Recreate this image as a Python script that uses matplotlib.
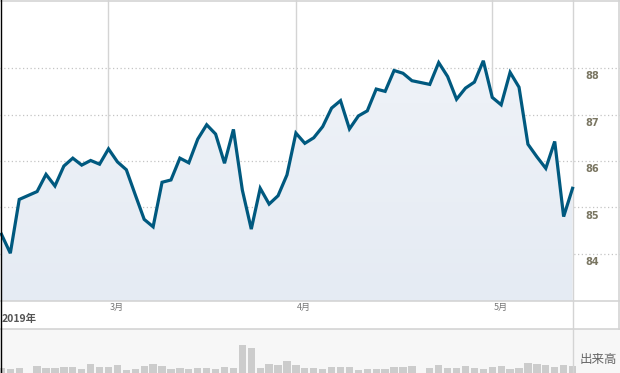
import matplotlib
matplotlib.use("Agg")
import matplotlib.pyplot as plt
from matplotlib.lines import Line2D
import numpy as np
import pandas as pd

plt.rcParams['font.family'] = ['Noto Sans CJK JP', 'DejaVu Sans']

# weekday axis, US market holidays leave a gap
start, end = '2019-02-13', '2019-05-14'
holidays = ['2019-02-18', '2019-04-19']

closes = [84.42, 84.01, 85.17, 85.34, 85.71, 85.46, 85.89, 86.06, 85.91, 86.01,
          85.93, 86.26, 85.98, 85.81, 85.27, 84.74, 84.58, 85.54, 85.59, 86.06,
          85.96, 86.47, 86.78, 86.58, 85.95, 86.68, 85.37, 84.53, 85.41, 85.07,
          85.25, 85.70, 86.60, 86.38, 86.50, 86.74, 87.14, 87.30, 86.69, 86.97,
          87.08, 87.55, 87.50, 87.95, 87.89, 87.73, 87.65, 88.12, 87.82, 87.33,
          87.57, 87.70, 88.16, 87.37, 87.21, 87.91, 87.59, 86.36, 86.09, 85.84,
          86.42, 84.80, 85.41]
volumes = [50, 43, 53, 70, 50, 53, 60, 60, 43, 90,
           63, 63, 80, 33, 43, 70, 90, 70, 40, 50,
           40, 50, 50, 40, 60, 50, 280, 250, 50, 90,
           80, 120, 80, 50, 50, 40, 60, 60, 60, 30,
           40, 40, 40, 60, 60, 70, 50, 80, 50, 50,
           70, 50, 40, 60, 70, 40, 50, 100, 90, 80,
           60, 80, 70]
price_ticks = [84, 85, 86, 87, 88]
month_starts = ['2019-03-01', '2019-04-01', '2019-05-01']
month_labels = ['3月', '4月', '5月']
year_label = '2019年'
volume_label = '出来高'

weekdays = pd.bdate_range(start, end)
trading = weekdays[~weekdays.isin(pd.to_datetime(holidays))]
pos = np.array([weekdays.get_loc(d) for d in trading])
mpos = [weekdays.get_loc(pd.Timestamp(m)) for m in month_starts]
last = pos[-1]

W, H = 620, 373
fig = plt.figure(figsize=(W / 100, H / 100), dpi=100)
fig.patch.set_facecolor('white')

xmin = -0.157
xmax = xmin + (W - 1) / 8.91
grid_c = '#d4d4d4'

# price panel
ax = fig.add_axes([0, (H - 301) / H, 1, 301 / H])
ax.set_xlim(xmin, xmax)
ax.set_ylim(82.98, 89.47)
ax.axis('off')
for t in price_ticks:
    ax.axhline(t, color='#c4c4c4', lw=0.9, ls=(0, (1, 2)), zorder=1)
    ax.text(66.17, t - 0.07, str(t), ha='center', va='top', fontsize=7,
            fontweight='bold', color='#7a7662', family='DejaVu Sans')
for m in mpos:
    ax.axvline(m, color=grid_c, lw=1, zorder=1)
ax.axvline(last, color=grid_c, lw=1, zorder=3)

# soft vertical gradient under the line
grad = np.linspace(0, 1, 64).reshape(-1, 1)
img = ax.imshow(grad, extent=[pos[0], last, 82.98, 89.47], aspect='auto',
                cmap=matplotlib.colors.LinearSegmentedColormap.from_list('f', ['#f1f4f9', '#e5ebf3']),
                origin='upper', zorder=2)
poly = ax.fill_between(pos, closes, 82.98, color='none', lw=0)
img.set_clip_path(poly.get_paths()[0], transform=ax.transData)
ax.plot(pos, closes, color='#00597f', lw=2.3, solid_joinstyle='miter', zorder=4)
ax.set_xlim(xmin, xmax)
ax.set_ylim(82.98, 89.47)

# date band
axd = fig.add_axes([0, (H - 329) / H, 1, 28 / H])
axd.set_xlim(xmin, xmax)
axd.set_ylim(0, 28)
axd.axis('off')
axd.axvline(last, color=grid_c, lw=1)
for m, lab in zip(mpos, month_labels):
    axd.text(m + 0.12, 22, lab, ha='left', va='center', fontsize=6.5, color='#777777')
axd.text(0.06, 10, year_label, ha='left', va='center', fontsize=7.5,
         fontweight='bold', color='#555555')

# volume panel
axv = fig.add_axes([0, 0, 1, 44 / H])
axv.set_xlim(xmin, xmax)
axv.set_ylim(0, 440)
axv.set_facecolor('#f7f7f7')
for s in axv.spines.values():
    s.set_visible(False)
axv.set_xticks([])
axv.set_yticks([])
axv.bar(pos, volumes, width=0.82, color='#cccccc', zorder=2)
axv.axvline(last, color=grid_c, lw=1)
axv.text(66.9, 130, volume_label, ha='center', va='center', fontsize=9, color='#666666')

# borders
for y in [0.5, 301, 329]:
    fig.add_artist(Line2D([0, 1], [1 - y / H] * 2, color=grid_c, lw=1.2))
fig.add_artist(Line2D([1 - 1.5 / W] * 2, [44 / H, 1], color=grid_c, lw=1.2))
fig.add_artist(Line2D([0.5 / W] * 2, [0, 1], color='black', lw=1))

fig.savefig('out.png', dpi=100, facecolor='white')
